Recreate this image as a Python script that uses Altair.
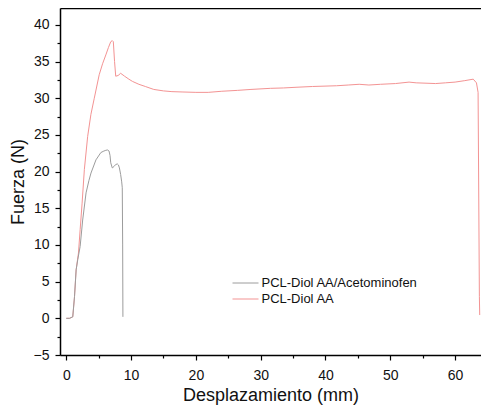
import altair as alt
import pandas as pd

# PCL-Diol AA (red)
red_x = [0, 0.5, 1.0, 1.27, 1.52, 1.88, 2.14, 2.44, 2.79, 3.3, 3.8, 4.32, 5.08, 5.6, 6.1, 6.5, 6.86, 7.1, 7.26,
         7.45, 7.63, 8.0, 8.39, 9.0, 9.66, 10.2, 11.2, 12.2, 13.5, 15.0, 16.3, 18, 20, 21.9, 24, 26.4, 28.5,
         31.5, 33.5, 35.6, 38, 41.7, 43.5, 45.2, 46.7, 48.5, 50.8, 52.9, 54, 57.0, 58.5, 60.0, 61.5, 62.8,
         63.3, 63.55, 63.7, 63.75, 63.8]
red_y = [0, 0.0, 0.2, 2.95, 6.6, 8.9, 12.1, 15.7, 20.3, 24.8, 27.8, 30.0, 33.2, 34.7, 35.9, 36.9, 37.7, 37.85,
         37.7, 35.0, 33.0, 33.1, 33.4, 33.0, 32.6, 32.3, 31.9, 31.6, 31.2, 31.0, 30.9, 30.85, 30.8, 30.8,
         30.95, 31.07, 31.2, 31.35, 31.4, 31.5, 31.6, 31.7, 31.8, 31.9, 31.8, 31.9, 32.0, 32.2, 32.1, 32.0,
         32.1, 32.2, 32.4, 32.6, 32.1, 30.8, 10.0, 3.0, 0.45]

# PCL-Diol AA/Acetominofen (gray)
gray_x = [0, 0.5, 1.0, 1.27, 1.52, 1.77, 2.14, 2.53, 3.05, 3.5, 3.81, 4.58, 5.34, 5.8, 6.1, 6.35, 6.6, 6.75,
          6.86, 7.1, 7.37, 7.6, 7.87, 8.05, 8.2, 8.39, 8.55, 8.64, 8.7, 8.74]
gray_y = [0, 0.0, 0.2, 2.95, 6.6, 8.0, 9.8, 13.4, 17.1, 18.8, 19.8, 21.6, 22.6, 22.8, 22.9, 22.95, 22.8, 22.2,
          21.2, 20.5, 20.7, 20.95, 21.05, 20.9, 20.5, 19.6, 18.6, 17.8, 10.0, 0.2]

series_names = ["PCL-Diol AA/Acetominofen", "PCL-Diol AA"]
series_colors = ["#9c9c9c", "#f39393"]

x_ticks = list(range(0, 65, 5))
y_ticks = [v / 2 for v in range(-10, 85, 5)]

rows_gray = [{"x": x, "y": y, "s": series_names[0], "i": i} for i, (x, y) in enumerate(zip(gray_x, gray_y))]
rows_red = [{"x": x, "y": y, "s": series_names[1], "i": i} for i, (x, y) in enumerate(zip(red_x, red_y))]
df_gray = pd.DataFrame(rows_gray)
df_red = pd.DataFrame(rows_red)

FONT = "Liberation Sans"
x_scale = alt.Scale(domain=[-0.97, 64.0], nice=False, zero=False)
y_scale = alt.Scale(domain=[-5, 42.3], nice=False, zero=False)

x_axis_bottom = alt.Axis(
    title="Desplazamiento (mm)", values=x_ticks,
    labelExpr="datum.value % 10 === 0 ? datum.label : ''",
    tickSize={"condition": {"test": "datum.value % 10 === 0", "value": 5}, "value": 3},
    labelPadding=8, titlePadding=4, orient="bottom",
)
x_axis_top = alt.Axis(orient="top", labels=False, ticks=False, title=None, domain=True)
y_axis = alt.Axis(
    title="Fuerza (N)", values=y_ticks,
    labelExpr="datum.value % 5 === 0 ? datum.label : ''",
    tickSize={"condition": {"test": "datum.value % 5 === 0", "value": 5}, "value": 3},
    labelPadding=6, titlePadding=6, orient="left",
)

color = alt.Color(
    "s:N",
    scale=alt.Scale(domain=series_names, range=series_colors),
    legend=alt.Legend(
        title=None, orient="none", legendX=178.5, legendY=268,
        symbolType="M-2,0H2", symbolSize=169, symbolStrokeWidth=1,
        labelFont=FONT, labelFontSize=13, labelColor="#111", labelOffset=9,
        rowPadding=2, padding=0,
    ),
)

red_layer = alt.Chart(df_red).mark_line(strokeWidth=1).encode(
    x=alt.X("x:Q", scale=x_scale, axis=x_axis_bottom),
    y=alt.Y("y:Q", scale=y_scale, axis=y_axis),
    color=color,
    order="i:Q",
)
gray_layer = alt.Chart(df_gray).mark_line(strokeWidth=1).encode(
    x=alt.X("x:Q", scale=x_scale, axis=x_axis_top),
    y=alt.Y("y:Q", scale=y_scale, axis=y_axis),
    color=color,
    order="i:Q",
)

chart = alt.layer(red_layer, gray_layer).resolve_axis(x="independent").properties(
    width=421, height=347,
    autosize=alt.AutoSizeParams(type="none"),
    padding={"left": 52, "top": 0, "right": 0, "bottom": 50},
).configure_view(stroke=None).configure_axis(
    grid=False, domainColor="black", domainWidth=1.5, tickColor="black", tickWidth=1.2,
    labelFont=FONT, labelFontSize=14, labelColor="#111",
    titleFont=FONT, titleFontSize=18, titleFontWeight="normal", titleColor="#111",
)

chart.save("out.html", embed_options={"renderer": "svg", "actions": False})
